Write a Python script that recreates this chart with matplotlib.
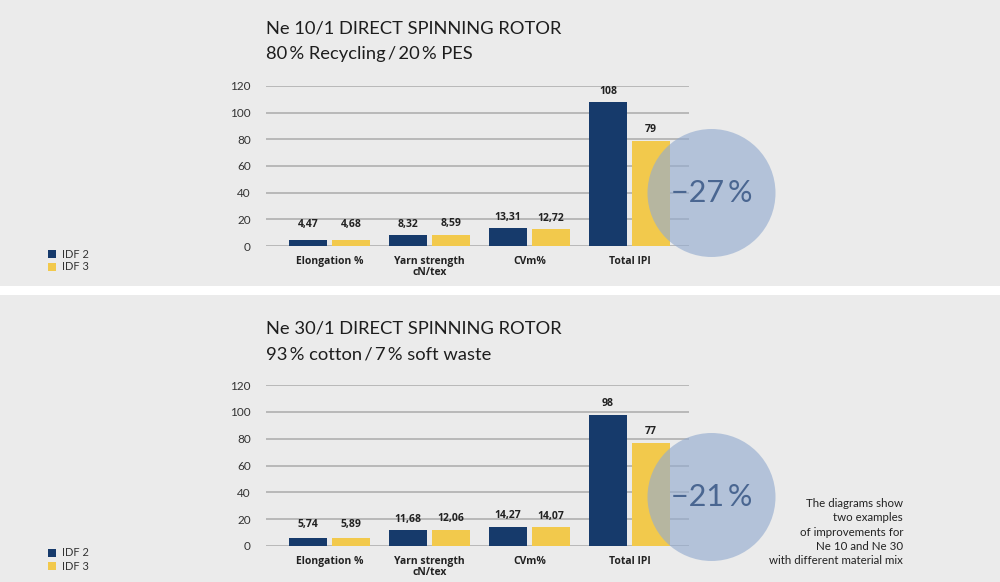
import matplotlib
matplotlib.use('Agg')
import matplotlib.pyplot as plt
from matplotlib.patches import Ellipse, Rectangle
import numpy as np

# data
categories = ['Elongation %', 'Yarn strength\ncN/tex', 'CVm%', 'Total IPI']
series = ['IDF 2', 'IDF 3']

idf2_ne10 = [4.47, 8.32, 13.31, 108]
idf3_ne10 = [4.68, 8.59, 12.72, 79]
labels2_ne10 = ['4,47', '8,32', '13,31', '108']
labels3_ne10 = ['4,68', '8,59', '12,72', '79']

idf2_ne30 = [5.74, 11.68, 14.27, 98]
idf3_ne30 = [5.89, 12.06, 14.07, 77]
labels2_ne30 = ['5,74', '11,68', '14,27', '98']
labels3_ne30 = ['5,89', '12,06', '14,07', '77']

TS = '\u2009'  # thin space
titles1 = ['Ne 10/1 DIRECT SPINNING ROTOR', 'Ne 30/1 DIRECT SPINNING ROTOR']
titles2 = ['80' + TS + '% Recycling' + TS + '/' + TS + '20' + TS + '% PES',
           '93' + TS + '% cotton' + TS + '/' + TS + '7' + TS + '% soft waste']
reductions = ['\u221227' + TS + '%', '\u221221' + TS + '%']
yticks = [0, 20, 40, 60, 80, 100, 120]

NAVY = '#163a6b'
YELLOW = '#f2c94c'
BG = '#ebebeb'
GRID = '#b4b4b4'

W, H = 1000, 582
fig = plt.figure(figsize=(10, 5.82), dpi=100)
fig.patch.set_facecolor(BG)

# white separator band
fig.add_artist(Rectangle((0, 1 - 295 / H), 1, 9 / H, transform=fig.transFigure,
                         facecolor='white', edgecolor='none', zorder=0))

panels = [
    dict(bottom=246, top=86, i2=idf2_ne10, i3=idf3_ne10, l2=labels2_ne10, l3=labels3_ne10,
         title_y=28, circ=(711.5, 193), leg_y=254),
    dict(bottom=546, top=385, i2=idf2_ne30, i3=idf3_ne30, l2=labels2_ne30, l3=labels3_ne30,
         title_y=328, circ=(711.5, 497), leg_y=553),
]

x = np.arange(len(categories))
bw = 0.38
off = 0.215

for k, p in enumerate(panels):
    ax = fig.add_axes([266 / W, 1 - p['bottom'] / H, 423 / W, (p['bottom'] - p['top']) / H])
    ax.set_facecolor('none')
    ax.set_xlim((266 - 329.5) / 100, (689 - 329.5) / 100)
    ax.set_ylim(0, 120)
    for s in ax.spines.values():
        s.set_visible(False)
    ax.set_yticks(yticks)
    ax.yaxis.grid(True, color=GRID, linewidth=1.3)
    ax.set_axisbelow(True)
    ax.tick_params(axis='y', length=0, pad=11, labelsize=8.5, labelcolor='#333333')
    ax.tick_params(axis='x', length=0, pad=7)
    ax.set_xticks(x)
    ax.set_xticklabels(categories, fontsize=7.5, fontweight='bold', color='#222222',
                       linespacing=1.0, family='Open Sans')
    for lbl in ax.get_yticklabels():
        lbl.set_family('Lato')

    ax.bar(x - off, p['i2'], bw, color=NAVY, zorder=2)
    ax.bar(x + off, p['i3'], bw, color=YELLOW, zorder=2)
    for xs, vals, labs in [(x - off, p['i2'], p['l2']), (x + off, p['i3'], p['l3'])]:
        for xi, v, t in zip(xs, vals, labs):
            ax.text(xi, max(v, 8) + 4, t, ha='center', va='bottom', fontsize=7.5,
                    fontweight='bold', color='#222222', family='Open Sans')

    # title
    ty = p['title_y']
    fig.text(266 / W, 1 - ty / H, titles1[k], ha='left', va='center', fontsize=13.2,
             color='#1e1e1e', family='Lato')
    fig.text(266 / W, 1 - (ty + 26) / H, titles2[k], ha='left', va='center', fontsize=13.2,
             color='#1e1e1e', family='Lato')

    # circle highlight
    cx, cy = p['circ']
    fig.add_artist(Ellipse((cx / W, 1 - cy / H), 128 / W, 128 / H, transform=fig.transFigure,
                           facecolor='#94acd0', alpha=0.64, edgecolor='none', zorder=5))
    fig.text(cx / W, 1 - cy / H, reductions[k], ha='center', va='center', fontsize=22,
             color='#4a6691', family='Lato', fontweight='normal', zorder=6)

    # legend
    ly = p['leg_y']
    for j, (name, col) in enumerate(zip(series, [NAVY, YELLOW])):
        yy = ly + j * 13
        fig.add_artist(Rectangle((48 / W, 1 - (yy + 4) / H), 8 / W, 8 / H, transform=fig.transFigure,
                                 facecolor=col, edgecolor='none'))
        fig.text(62 / W, 1 - yy / H, name, ha='left', va='center', fontsize=8,
                 color='#333333', family='Lato')

fig.text(903 / W, 1 - 532 / H,
         'The diagrams show\ntwo examples\nof improvements for\nNe 10 and Ne 30\nwith different material mix',
         ha='right', va='center', fontsize=8.3, color='#222222', family='Lato', linespacing=1.38)

fig.savefig('out.png', dpi=100, facecolor=BG)
